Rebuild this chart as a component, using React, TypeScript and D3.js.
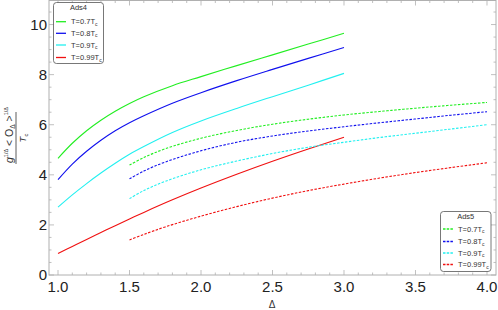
import React, { useEffect, useRef } from 'react';
import * as d3 from 'd3';

// Ads4 (solid), Δ from 1 to 3
const ads4Delta = [1.0, 1.1, 1.2, 1.3, 1.4, 1.5, 1.6, 1.8, 2.0, 2.25, 2.5, 2.75, 3.0];
const ads4T07 = [4.66, 5.26, 5.76, 6.18, 6.54, 6.85, 7.12, 7.56, 7.92, 8.36, 8.79, 9.22, 9.65];
const ads4T08 = [3.81, 4.43, 4.94, 5.38, 5.76, 6.08, 6.36, 6.86, 7.28, 7.76, 8.21, 8.65, 9.08];
const ads4T09 = [2.71, 3.2, 3.65, 4.07, 4.46, 4.82, 5.13, 5.69, 6.15, 6.65, 7.12, 7.58, 8.05];
const ads4T099 = [0.86, 1.14, 1.42, 1.695, 1.97, 2.24, 2.5, 3.0, 3.47, 4.02, 4.54, 5.03, 5.5];

// Ads5 (dashed), Δ from 1.5 to 4
const ads5Delta = [1.5, 1.6, 1.75, 2.0, 2.25, 2.5, 2.75, 3.0, 3.25, 3.5, 3.75, 4.0];
const ads5T07 = [4.39, 4.69, 5.04, 5.46, 5.77, 6.02, 6.22, 6.39, 6.53, 6.66, 6.78, 6.89];
const ads5T08 = [3.84, 4.15, 4.51, 4.96, 5.3, 5.55, 5.75, 5.92, 6.08, 6.23, 6.38, 6.52];
const ads5T09 = [3.05, 3.37, 3.74, 4.2, 4.55, 4.85, 5.1, 5.3, 5.49, 5.66, 5.83, 6.0];
const ads5T099 = [1.4, 1.62, 1.92, 2.35, 2.73, 3.07, 3.37, 3.63, 3.87, 4.09, 4.29, 4.48];

const tempLabels = ['0.7', '0.8', '0.9', '0.99'];
const colors = ['#22ee22', '#1010ee', '#22f0f0', '#f01010'];

const xTicks = [1.0, 1.5, 2.0, 2.5, 3.0, 3.5, 4.0];
const yTicks = [0, 2, 4, 6, 8, 10];

const W = 498;
const H = 310;

const App = () => {
  const ref = useRef<SVGSVGElement>(null);

  useEffect(() => {
    const svg = d3.select(ref.current);
    svg.selectAll('*').remove();

    const left = 49, right = 496, top = 0.5, bottom = 275;
    const x = d3.scaleLinear().domain([0.937, 4.063]).range([left, right]);
    const y = d3.scaleLinear().domain([0, 10.96]).range([bottom, top]);
    const font = 'Liberation Sans, Arial, sans-serif';
    const frameColor = '#b0b0b0';

    // frame
    svg.append('rect')
      .attr('x', left).attr('y', top)
      .attr('width', right - left).attr('height', bottom - top)
      .attr('fill', 'none').attr('stroke', frameColor).attr('stroke-width', 1);

    // ticks (inward, on all four sides)
    const g = svg.append('g').attr('stroke', frameColor).attr('stroke-width', 0.8);
    const xMinor = d3.range(1.0, 4.01, 0.1);
    xMinor.forEach((v) => {
      const isMajor = xTicks.some((t) => Math.abs(t - v) < 1e-6);
      const len = isMajor ? 5 : 2.5;
      g.append('line').attr('x1', x(v)).attr('x2', x(v)).attr('y1', bottom).attr('y2', bottom - len);
      g.append('line').attr('x1', x(v)).attr('x2', x(v)).attr('y1', top).attr('y2', top + len);
    });
    const yMinor = d3.range(0, 10.9, 0.5);
    yMinor.forEach((v) => {
      const isMajor = yTicks.some((t) => Math.abs(t - v) < 1e-6);
      const len = isMajor ? 5 : 2.5;
      g.append('line').attr('y1', y(v)).attr('y2', y(v)).attr('x1', left).attr('x2', left + len);
      g.append('line').attr('y1', y(v)).attr('y2', y(v)).attr('x1', right).attr('x2', right - len);
    });

    // tick labels
    svg.append('g').selectAll('text').data(xTicks).enter().append('text')
      .attr('x', (d) => x(d)).attr('y', 292)
      .attr('text-anchor', 'middle')
      .attr('font-family', font).attr('font-size', 15).attr('fill', '#222')
      .text((d) => d.toFixed(1));
    svg.append('g').selectAll('text').data(yTicks).enter().append('text')
      .attr('x', 47).attr('y', (d) => y(d) + 5.4)
      .attr('text-anchor', 'end')
      .attr('font-family', font).attr('font-size', 15).attr('fill', '#222')
      .text((d) => d);

    // x axis label
    svg.append('text').attr('x', 272).attr('y', 308).attr('text-anchor', 'middle')
      .attr('font-family', font).attr('font-size', 10).attr('fill', '#333').text('Δ');

    // y axis label (rotated fraction)
    const yl = svg.append('g').attr('transform', 'translate(16,138) rotate(-90)')
      .attr('font-family', font).attr('fill', '#333');
    yl.append('line').attr('x1', -26).attr('x2', 26).attr('y1', 0).attr('y2', 0)
      .attr('stroke', '#333').attr('stroke-width', 0.8);
    const num = yl.append('text').attr('x', -25).attr('y', -3).attr('font-size', 10.5);
    num.append('tspan').attr('font-style', 'italic').text('g');
    num.append('tspan').attr('font-size', 5.5).attr('dy', -5).text('1/Δ');
    num.append('tspan').attr('dy', 5).text(' < O');
    num.append('tspan').attr('font-size', 6.5).attr('dy', 2).text('Δ');
    num.append('tspan').attr('dy', -2).text(' >');
    num.append('tspan').attr('font-size', 5.5).attr('dy', -5).text('1/Δ');
    const den = yl.append('text').attr('x', 0).attr('y', 9.5).attr('text-anchor', 'middle').attr('font-size', 9.5);
    den.append('tspan').attr('font-style', 'italic').text('T');
    den.append('tspan').attr('font-size', 6).attr('dy', 2).text('c');

    // curves
    const line = d3.line<[number, number]>()
      .x((d) => x(d[0])).y((d) => y(d[1]))
      .curve(d3.curveCatmullRom.alpha(0.5));
    const ads4 = [ads4T07, ads4T08, ads4T09, ads4T099];
    const ads5 = [ads5T07, ads5T08, ads5T09, ads5T099];
    ads4.forEach((vals, i) => {
      svg.append('path')
        .attr('d', line(ads4Delta.map((d, j) => [d, vals[j]] as [number, number])))
        .attr('fill', 'none').attr('stroke', colors[i]).attr('stroke-width', 1.1);
    });
    ads5.forEach((vals, i) => {
      svg.append('path')
        .attr('d', line(ads5Delta.map((d, j) => [d, vals[j]] as [number, number])))
        .attr('fill', 'none').attr('stroke', colors[i]).attr('stroke-width', 1.1)
        .attr('stroke-dasharray', '2.5,1.5');
    });

    // legends
    const legend = (bx: number, by: number, bw: number, bh: number, title: string, dashed: boolean, lx: number, tx: number, rows: number[], ty: number) => {
      const lg = svg.append('g').attr('font-family', font);
      lg.append('rect').attr('x', bx).attr('y', by).attr('width', bw).attr('height', bh)
        .attr('rx', 3).attr('fill', 'white').attr('stroke', '#555').attr('stroke-width', 0.8);
      lg.append('text').attr('x', bx + bw / 2).attr('y', ty).attr('text-anchor', 'middle')
        .attr('font-size', 7.5).attr('fill', '#333').text(title);
      tempLabels.forEach((t, i) => {
        const ln = lg.append('line').attr('x1', lx).attr('x2', lx + 10).attr('y1', rows[i]).attr('y2', rows[i])
          .attr('stroke', colors[i]).attr('stroke-width', 1.3);
        if (dashed) ln.attr('stroke-dasharray', '2.5,1.2');
        const tt = lg.append('text').attr('x', tx).attr('y', rows[i] + 2.6)
          .attr('font-size', 7.5).attr('fill', '#333');
        tt.append('tspan').text(`T=${t}T`);
        tt.append('tspan').attr('font-size', 5).attr('dy', 1.5).text('c');
      });
    };
    legend(53.5, 2.5, 50, 61, 'Ads4', false, 56, 71, [21.7, 33.3, 45, 57.5], 10);
    legend(440.5, 211.5, 50.5, 60, 'Ads5', true, 443, 458, [229, 241.5, 253, 264.5], 219);
  }, []);

  return (
    <svg ref={ref} width={W} height={H} style={{ position: 'absolute', left: 0, top: 0 }} />
  );
};

export default App;
